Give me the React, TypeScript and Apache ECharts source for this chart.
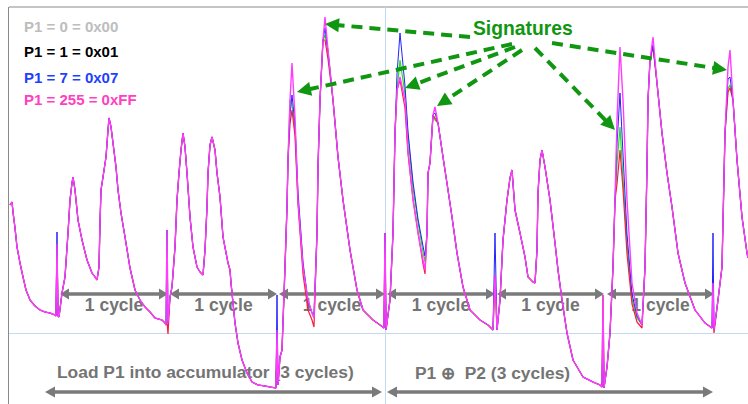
import React, { useEffect, useRef } from "react";
import * as echarts from "echarts";

// Power trace (time sample, power units) for P1 = 255 (drawn in magenta)
const pinkTrace: [number, number][] = [
  [10,199],[12,202],[13,192],[15,176],[17,157],[20,141],[23,127],[26,114],[30,104],[35,98],[40,94],[45,92],[50,91],[55,89],[56,88],[57,160],[58,88],[59,87],
  [62,111],[65,127],[68,171],[70,204],[72,221],[73,227],[75,214],[78,184],[82,164],[87,144],[92,131],[95,127],[97,124],[99,137],[100,181],[101,214],[103,227],[106,247],[108,274],[109,286],
  [111,277],[113,261],[116,237],[118,214],[121,191],[125,167],[130,136],[135,114],[140,104],[145,97],[150,92],[155,86],[162,84],[165,81],[166,79],[167,174],[168,81],
  [170,107],[172,117],[175,157],[177,204],[179,231],[181,254],[183,271],[185,257],[187,231],[190,187],[193,157],[197,137],[200,132],[203,129],[205,154],[207,197],[208,231],[210,259],[212,267],
  [215,254],[217,231],[220,207],[223,167],[228,141],[230,134],[231,121],[233,101],[235,81],[238,61],[242,44],[247,31],[252,22],[258,19],[265,18],[270,17],[276,16],[277,74],[278,19],
  [280,47],[282,54],[285,137],[287,197],[288,244],[290,304],[292,341],[295,287],[298,204],[303,137],[308,104],[312,91],[314,86],[317,171],[318,237],[320,304],[323,364],[325,387],
  [328,354],[333,304],[338,247],[343,204],[350,154],[357,114],[363,94],[373,84],[380,79],[384,76],[385,171],[386,74],[390,104],[393,171],[395,271],[397,314],[400,327],
  [405,304],[408,254],[413,204],[418,171],[423,144],[425,134],[427,171],[428,231],[430,241],[433,289],[435,297],[438,281],[443,247],[448,214],[452,187],[457,151],[463,117],[470,94],[480,84],[488,79],[493,74],[495,129],[497,74],
  [500,104],[503,164],[507,204],[510,226],[512,234],[515,194],[520,171],[525,147],[528,127],[533,122],[535,121],[537,154],[538,211],[540,244],[542,254],[545,237],[550,204],[555,161],[558,134],[562,104],[567,71],[573,44],[583,27],[593,22],[600,19],[602,17],[603,109],[604,16],
  [607,37],[610,71],[613,137],[615,204],[617,284],[620,357],[623,304],[627,204],[632,121],[637,91],[642,79],[645,137],[647,237],[648,304],[650,344],[653,367],[657,321],[662,271],[667,231],[672,197],[678,151],[685,121],[695,94],[705,81],[712,76],[713,121],[714,74],
  [718,104],[722,137],[725,271],[728,337],[730,354],[733,304],[737,244],[742,187],[747,151],[748,146]
];

// Samples where the other traces differ from the P1 = 255 trace
const blueDiff: [number, number][] = [
  [57,172],[277,109],[290,290],[292,309],[295,280],[298,212],[303,142],[308,102],[314,90],[325,376],[328,352],
  [397,330],[400,371],[405,318],[408,272],[413,222],[418,185],[423,158],[425,148],[435,291],[495,171],[603,87],
  [617,260],[620,311],[623,250],[627,170],[632,110],[637,88],[653,359],[713,171],[728,325],[730,327]
];
const greenDiff: [number, number][] = [
  [292,299],[295,275],[325,369],[400,344],[405,310],[408,268],[413,216],[418,182],[423,152],[425,142],[435,284],
  [617,240],[620,277],[623,225],[627,160],[632,105],[637,86],[653,359],[728,315],[730,319]
];
const redDiff: [number, number][] = [
  [167,82],[168,70],[290,280],[292,294],[295,268],[298,200],[303,130],[308,94],[312,84],[314,77],[325,364],[328,345],
  [400,324],[405,296],[408,250],[413,205],[418,172],[423,140],[425,130],[435,286],
  [617,220],[620,254],[623,215],[627,150],[632,100],[637,82],[642,76],[653,357],[713,90],[714,71],[728,312],[730,316]
];

const legendLabels = ["P1 = 0 = 0x00", "P1 = 1 = 0x01", "P1 = 7 = 0x07", "P1 = 255 = 0xFF"];
const cycleSpans: [number, number][] = [[60,168],[170,277],[279,385],[387,495],[497,604],[607,714]];
const cycleLabel = "1 cycle";
const phaseLabels = ["Load P1 into accumulator (3 cycles)", "P1 \u2295  P2 (3 cycles)"];
const phaseSpans: [number, number][] = [[45,382],[387,713]];
const signatureLabel = "Signatures";
const signatureTargets: [number, number][] = [[325,24],[297,92],[405,88],[437,106],[615,130],[727,70]];
const signatureSources: [number, number][] = [[470,37],[512,44],[515,47],[522,50],[535,48],[552,43]];

function merge(base: [number, number][], diff: [number, number][]) {
  const m = new Map<number, number>(base.map((d) => [d[0], d[1]]));
  diff.forEach((d) => m.set(d[0], d[1]));
  return [...m.entries()].sort((a, b) => a[0] - b[0]);
}

const FONT = "'Liberation Sans', Arial, Helvetica, sans-serif";

function arrow(x1: number, y1: number, x2: number, y2: number, o: any) {
  const dx = x2 - x1, dy = y2 - y1;
  const L = Math.hypot(dx, dy);
  const ux = dx / L, uy = dy / L, nx = -uy, ny = ux;
  const tri = (tx: number, ty: number, dir: number) => {
    const bx = tx - dir * ux * o.head, by = ty - dir * uy * o.head;
    return {
      type: "polygon",
      z: o.z,
      shape: { points: [[tx, ty], [bx + nx * o.half, by + ny * o.half], [bx - nx * o.half, by - ny * o.half]] },
      style: { fill: o.color },
      silent: true,
    };
  };
  const els: any[] = [];
  const sx = o.both ? x1 + ux * o.head * 0.8 : x1;
  const sy = o.both ? y1 + uy * o.head * 0.8 : y1;
  els.push({
    type: "line",
    z: o.z,
    shape: { x1: sx, y1: sy, x2: x2 - ux * o.head * 0.8, y2: y2 - uy * o.head * 0.8 },
    style: { stroke: o.color, lineWidth: o.width, lineDash: o.dash || null },
    silent: true,
  });
  els.push(tri(x2, y2, 1));
  if (o.both) els.push(tri(x1, y1, -1));
  return els;
}

export default function App() {
  const ref = useRef<HTMLDivElement>(null);
  useEffect(() => {
    if (!ref.current) return;
    const chart = echarts.init(ref.current, undefined, { renderer: "svg" });

    const gray = "#7a7a7a";
    const green = "#119611";
    const graphic: any[] = [];
    // frame
    graphic.push({ type: "line", shape: { x1: 9, y1: 7, x2: 748, y2: 7 }, style: { stroke: "#8a8a8a", lineWidth: 1 }, silent: true });
    graphic.push({ type: "line", shape: { x1: 8.5, y1: 7, x2: 8.5, y2: 404 }, style: { stroke: "#8a8a8a", lineWidth: 1 }, silent: true });
    // legend texts
    const legendColors = ["#bdbdbd", "#000000", "#1f3fff", "#ff40c0"];
    const legendY = [26, 51, 77, 99];
    legendLabels.forEach((t, i) => {
      graphic.push({ type: "text", x: 24, y: legendY[i], style: { text: t, fill: legendColors[i], font: `bold 15px ${FONT}`, textVerticalAlign: "middle" }, silent: true });
    });
    // cycle arrows
    cycleSpans.forEach(([a, b]) => {
      graphic.push(...arrow(a, 294, b, 294, { color: gray, width: 3.5, head: 9, half: 5.5, both: true, z: 1 }));
      graphic.push({ type: "text", x: (a + b) / 2, y: 305, style: { text: cycleLabel, fill: "#747474", font: `bold 17.5px ${FONT}`, textAlign: "center", textVerticalAlign: "middle" }, z: 1, silent: true });
    });
    // phase arrows
    phaseSpans.forEach(([a, b]) => {
      graphic.push(...arrow(a, 392, b, 392, { color: gray, width: 3.5, head: 10, half: 5.5, both: true, z: 1 }));
    });
    graphic.push({ type: "text", x: 57, y: 372, style: { text: phaseLabels[0], fill: "#747474", font: `bold 17.4px ${FONT}`, textVerticalAlign: "middle" }, z: 1, silent: true });
    graphic.push({ type: "text", x: 415, y: 373, style: { text: phaseLabels[1], fill: "#747474", font: `bold 17.4px ${FONT}`, textVerticalAlign: "middle" }, z: 1, silent: true });
    // signatures
    graphic.push({ type: "text", x: 473, y: 28, style: { text: signatureLabel, fill: green, font: `bold 19.3px ${FONT}`, textVerticalAlign: "middle" }, z: 20, silent: true });
    signatureTargets.forEach(([tx, ty], i) => {
      const [sx, sy] = signatureSources[i];
      graphic.push(...arrow(sx, sy, tx, ty, { color: green, width: 4, head: 14, half: 7, dash: [11, 7], z: 20 }));
    });

    const mk = (name: string, color: string, width: number, data: number[][], extra: any = {}) => ({
      name,
      type: "line",
      data,
      showSymbol: false,
      symbol: "none",
      lineStyle: { color, width },
      itemStyle: { color },
      z: 3,
      ...extra,
    });

    chart.setOption({
      animation: false,
      backgroundColor: "#ffffff",
      grid: { left: 9, right: 0, top: 7, bottom: 0, containLabel: false },
      xAxis: { type: "value", min: 9, max: 748, show: false },
      yAxis: { type: "value", min: 0, max: 397, show: false },
      graphic,
      series: [
        mk("P1 = 0 = 0x00", "#22e022", 1.2, merge(pinkTrace, greenDiff), {
          markLine: {
            silent: true,
            symbol: "none",
            label: { show: false },
            lineStyle: { color: "#c3daf2", type: "solid", width: 1 },
            data: [{ xAxis: 385 }, { yAxis: 71 }],
            z: 1,
          },
        }),
        mk("P1 = 1 = 0x01", "#ff1a3c", 1.2, merge(pinkTrace, redDiff)),
        mk("P1 = 7 = 0x07", "#2222ff", 1.0, merge(pinkTrace, blueDiff)),
        mk("P1 = 255 = 0xFF", "#ff3cff", 1.4, pinkTrace),
      ],
    });
    return () => chart.dispose();
  }, []);
  return <div ref={ref} style={{ position: "absolute", left: 0, top: 0, width: 748, height: 404 }} />;
}
